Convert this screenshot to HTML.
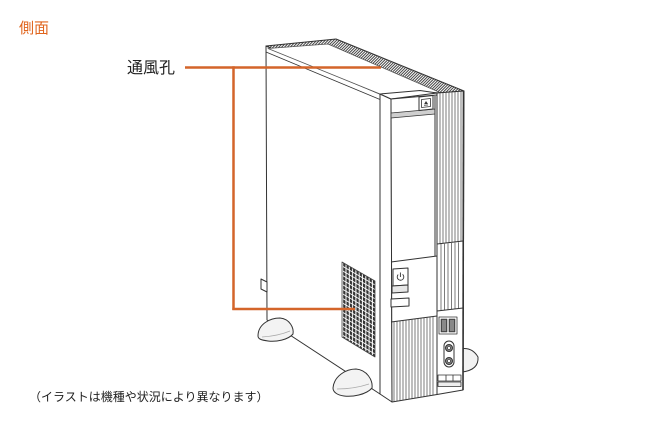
<!DOCTYPE html>
<html>
<head>
<meta charset="utf-8">
<style>
html,body{margin:0;padding:0;background:#fff;}
svg{display:block;}
text{font-family:"Liberation Sans","Noto Sans CJK JP",sans-serif;}
</style>
</head>
<body>
<svg width="650" height="430" viewBox="0 0 650 430" xmlns="http://www.w3.org/2000/svg">
<defs>
  <pattern id="hatch" width="2" height="2" patternUnits="userSpaceOnUse" patternTransform="rotate(45)">
    <rect width="2" height="2" fill="#fff"/>
    <rect width="1" height="2" fill="#444"/>
  </pattern>
  <pattern id="grill" width="3.3" height="4.6" patternUnits="userSpaceOnUse" patternTransform="skewY(30)">
    <rect width="3.3" height="4.6" fill="#333"/>
    <rect x="2.3" width="1" height="4.6" fill="#fff"/>
    <rect y="3.6" width="3.3" height="1" fill="#fff"/>
  </pattern>
</defs>
<rect width="650" height="430" fill="#fff"/>

<!-- labels -->
<text x="19" y="33" font-size="15" fill="#e0651e">側面</text>
<text x="127" y="73" font-size="16" fill="#222">通風孔</text>
<text x="29" y="401" font-size="12" fill="#222">（イラストは機種や状況により異なります）</text>

<g stroke="#333" stroke-width="1" fill="#fff" stroke-linejoin="round">
  <!-- back right foot -->
  <path d="M456,350 Q471,345 478,357 Q479,370 462,372 Z" fill="#f2f2f2"/>

  <!-- left side panel -->
  <polygon points="266,46 380,94 380,394 267,320"/>
  <!-- side tab -->
  <polygon points="261,279 267,282 267,292 261,289"/>

  <!-- top face hatched -->
  <polygon points="266,46 336,39 464,91 437,93 380,94" fill="url(#hatch)"/>
  <polygon points="268,48.5 328,44 440,92.5 380,94" fill="#fff" stroke="#555" stroke-width="0.8"/>
  <line x1="266" y1="52" x2="380" y2="99.5" stroke-width="0.8"/>

  <!-- vent grill -->
  <polygon points="342,262 375,281 375,357 342,337" fill="url(#grill)" stroke="#444" stroke-width="0.8"/>

  <!-- bezel side strip -->
  <polygon points="380,94 391,99 392,402 380,394"/>
  <!-- bezel top -->
  <polygon points="380,94 420,90.5 437,93 391,99"/>

  <!-- front face -->
  <polygon points="391,99 437,95 437,394.5 392,402"/>

  <!-- eject band -->
  <polygon points="391,113 435,109 435,114 391,118" fill="#cfcfcf" stroke-width="0.8"/>
  <line x1="435" y1="96" x2="435" y2="256"/>
  <line x1="391" y1="262" x2="437" y2="256"/>
  <!-- eject button -->
  <polygon points="419,97 433,95.5 433,109 419,110.5"/>
  <polygon points="421.5,99.5 430.5,98.5 430.5,106.5 421.5,107.5" stroke-width="0.8"/>
  <polygon points="426,101 428,104 424,104.3" fill="#333" stroke="none"/>
  <line x1="424" y1="105.3" x2="428" y2="105" stroke-width="0.7"/>

  <!-- power button -->
  <polygon points="393,269 408,268 408,285 393,286"/>
  <path d="M398.2,274.6 A3.3,3.3 0 1 0 402.6,274.4" fill="none" stroke-width="0.9"/>
  <line x1="400.4" y1="272.5" x2="400.4" y2="277" stroke-width="0.9"/>
  <polygon points="392,286 408,285 408,292 392,293" fill="#e6e6e6"/>
  <!-- slot -->
  <polygon points="391,299 409,298 409,306 391,307"/>

  <!-- lower ribs area -->
  <line x1="391" y1="322" x2="437" y2="316"/>
  <g stroke-width="0.7" stroke="#444">
    <line x1="394" y1="321.6" x2="394" y2="401.5"/>
    <line x1="397" y1="321.2" x2="397" y2="401"/>
    <line x1="400" y1="320.8" x2="400" y2="400.5"/>
    <line x1="403" y1="320.4" x2="403" y2="400"/>
    <line x1="406" y1="320" x2="406" y2="399.5"/>
    <line x1="409" y1="319.7" x2="409" y2="399"/>
    <line x1="412" y1="319.3" x2="412" y2="398.5"/>
    <line x1="415" y1="318.9" x2="415" y2="398"/>
    <line x1="418" y1="318.5" x2="418" y2="397.5"/>
    <line x1="421" y1="318.1" x2="421" y2="397"/>
    <line x1="424" y1="317.7" x2="424" y2="396.5"/>
    <line x1="427" y1="317.3" x2="427" y2="396"/>
    <line x1="430" y1="316.9" x2="430" y2="395.5"/>
    <line x1="433" y1="316.5" x2="433" y2="395"/>
  </g>

  <!-- right ribbed column -->
  <polygon points="437,93 464,91 463,390 437,394.5"/>
  <g stroke-width="0.7" stroke="#444">
    <line x1="440" y1="93" x2="440" y2="243.5"/>
    <line x1="443" y1="92.7" x2="443" y2="243.2"/>
    <line x1="446" y1="92.5" x2="446" y2="242.9"/>
    <line x1="449" y1="92.3" x2="449" y2="242.6"/>
    <line x1="452" y1="92.1" x2="452" y2="242.3"/>
    <line x1="455" y1="91.9" x2="455" y2="242"/>
    <line x1="458" y1="91.7" x2="458" y2="241.7"/>
    <line x1="461" y1="91.5" x2="461" y2="241.4"/>

    <line x1="441" y1="244" x2="441" y2="310.5"/>
    <line x1="444.5" y1="243.7" x2="444.5" y2="310.1"/>
    <line x1="448" y1="243.3" x2="448" y2="309.7"/>
    <line x1="451.5" y1="243" x2="451.5" y2="309.3"/>
    <line x1="455" y1="242.6" x2="455" y2="309"/>
    <line x1="458.5" y1="242.3" x2="458.5" y2="308.6"/>
  </g>
  <line x1="437" y1="244" x2="463" y2="241"/>
  <line x1="437" y1="311" x2="463" y2="308"/>
  <line x1="463.5" y1="91" x2="463" y2="390" stroke-width="1.6"/>

  <!-- USB ports -->
  <rect x="439" y="317" width="18" height="17" stroke-width="0.8"/>
  <rect x="441" y="319" width="6" height="13" fill="#555" stroke-width="0.6"/>
  <rect x="449" y="319" width="6" height="13" fill="#555" stroke-width="0.6"/>
  <g stroke="#fff" stroke-width="0.6">
    <line x1="443" y1="320" x2="443" y2="331"/>
    <line x1="445" y1="320" x2="445" y2="331"/>
    <line x1="451" y1="320" x2="451" y2="331"/>
    <line x1="453" y1="320" x2="453" y2="331"/>
  </g>
  <!-- audio -->
  <rect x="444" y="341" width="10" height="26" rx="5"/>
  <circle cx="449" cy="348" r="3.5" fill="#888"/>
  <circle cx="449" cy="348" r="1.5" fill="#fff" stroke-width="0.6"/>
  <circle cx="449" cy="361" r="3.5" fill="#888"/>
  <circle cx="449" cy="361" r="1.5" fill="#fff" stroke-width="0.6"/>
  <!-- bottom slot -->
  <rect x="438" y="375" width="23" height="6" stroke-width="0.8"/>
  <line x1="446" y1="375" x2="446" y2="381" stroke-width="0.8"/>
  <line x1="453" y1="375" x2="453" y2="381" stroke-width="0.8"/>
  <rect x="438" y="382" width="23" height="4.5" fill="#eee" stroke-width="0.8"/>

  <!-- front feet -->
  <path d="M258,336 C258,324 270,318 280,318 C290,319 294,328 293,334 C288,340 276,342 268,341 C261,340 258,339 258,336 Z" fill="#f3f3f3"/>
  <path d="M262,337 Q278,336 290,331" fill="none" stroke="#aaa" stroke-width="0.8"/>
  <path d="M333,388 C334,376 346,369 356,369 C367,370 373,380 372,388 C366,395 352,397 344,396 C337,395 333,392 333,388 Z" fill="#f3f3f3"/>
  <path d="M337,389 Q354,389 369,384" fill="none" stroke="#aaa" stroke-width="0.8"/>
</g>

<!-- leader lines -->
<g stroke="#d4652a" stroke-width="2.5" fill="none" stroke-linecap="butt">
  <line x1="185" y1="67.5" x2="381" y2="67.5"/>
  <line x1="233.5" y1="66.3" x2="233.5" y2="310"/>
  <line x1="232.3" y1="309" x2="355" y2="309"/>
</g>
</svg>
</body>
</html>
